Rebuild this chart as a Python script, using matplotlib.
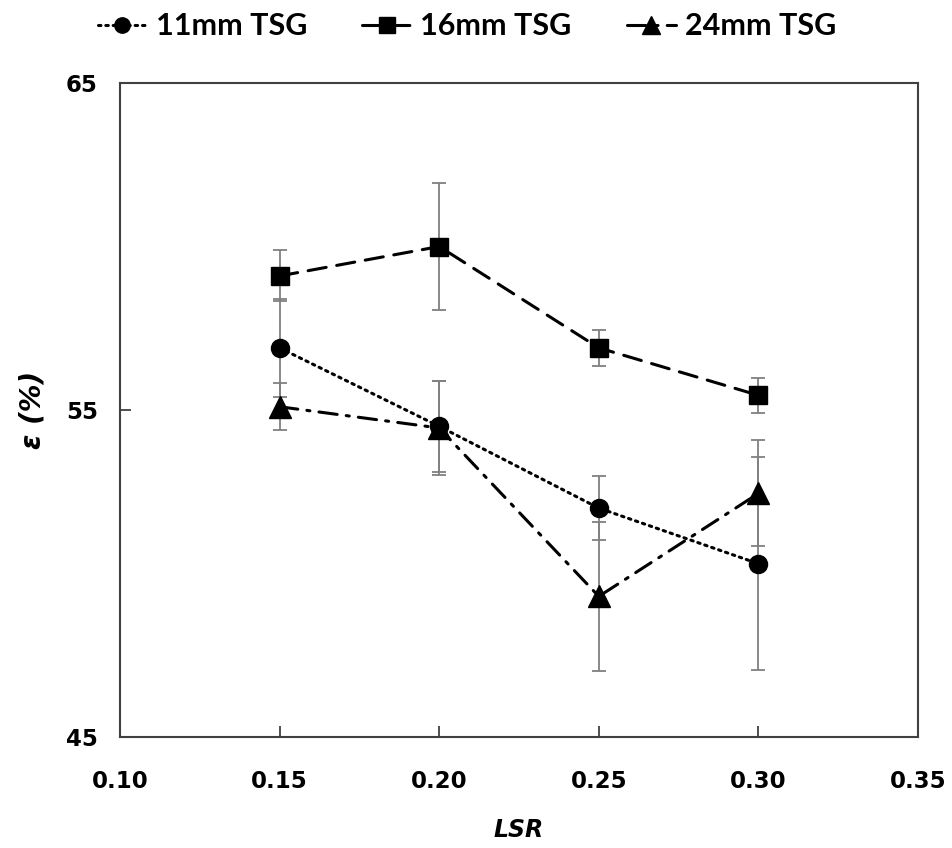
import numpy as np
import matplotlib
matplotlib.use("Agg")
import matplotlib.pyplot as plt

lsr = [0.15, 0.20, 0.25, 0.30]

eff_11 = [56.9, 54.5, 52.0, 50.3]
err_11 = [1.5, 1.4, 0.98, 3.25]

eff_16 = [59.1, 60.0, 56.9, 55.45]
err_16 = [0.78, 1.93, 0.54, 0.54]

eff_24 = [55.1, 54.45, 49.3, 52.45]
err_24 = [0.72, 1.45, 2.28, 1.62]

labels = ["11mm TSG", "16mm TSG", "24mm TSG"]

fig = plt.figure(figsize=(9.53, 8.48), dpi=100)
ax = fig.add_axes([0.1259, 0.1309, 0.8374, 0.7712])

series = [
    (eff_11, err_11, "o", 13, (0, (0.8, 1.6))),
    (eff_16, err_16, "s", 13, (0, (6, 3.5))),
    (eff_24, err_24, "^", 16, (0, (6, 3, 1, 3))),
]

handles = []
for (y, e, mk, ms, ls), lab in zip(series, labels):
    ax.errorbar(lsr, y, yerr=e, fmt="none", ecolor="#808080", elinewidth=1.3,
                capsize=5, capthick=1.3, zorder=2)
    line, = ax.plot(lsr, y, color="black", lw=2.2, linestyle=ls,
                    dash_capstyle="round", marker=mk, markersize=ms,
                    markerfacecolor="black", markeredgecolor="black", zorder=3,
                    label=lab)
    handles.append(line)

ax.set_xlim(0.10, 0.35)
ax.set_ylim(45, 65)
ax.set_xticks(np.arange(0.10, 0.351, 0.05))
ax.set_yticks([45, 55, 65])
ax.set_xticklabels([f"{v:.2f}" for v in np.arange(0.10, 0.351, 0.05)])

ax.tick_params(direction="in", length=8, width=1.3, color="#404040",
               labelsize=16.5)
ax.tick_params(axis="x", pad=24)
ax.tick_params(axis="y", pad=16)
for lbl in ax.get_xticklabels() + ax.get_yticklabels():
    lbl.set_fontweight("bold")
for sp in ax.spines.values():
    sp.set_color("#404040")
    sp.set_linewidth(1.5)

ax.set_xlabel("LSR", fontsize=17, fontweight="bold", fontstyle="italic",
              labelpad=18)
ax.set_ylabel("ε (%)", fontsize=20, fontweight="bold", fontstyle="italic",
              labelpad=14)

fig.legend(handles=handles, loc="upper center", bbox_to_anchor=(0.49, 1.018),
           ncol=3, frameon=False, handlelength=1.6, columnspacing=1.8,
           handletextpad=0.3, markerscale=0.85,
           prop={"family": "Lato", "weight": "bold", "size": 22})

fig.savefig("out.png", dpi=100)
